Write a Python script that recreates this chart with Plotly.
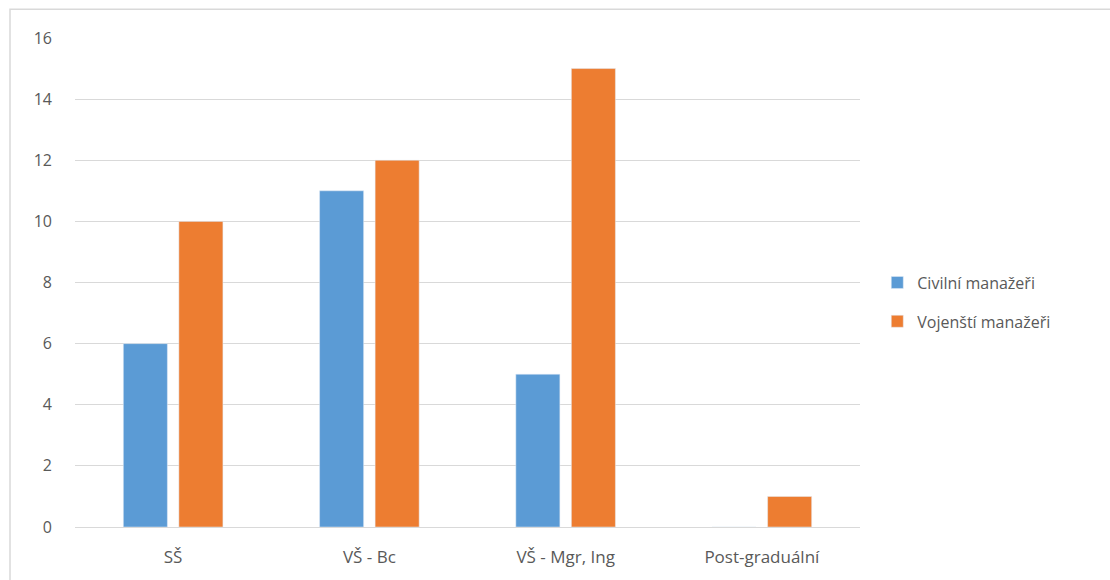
import plotly.graph_objects as go

categories = ["SŠ", "VŠ - Bc", "VŠ - Mgr, Ing", "Post-graduální"]
civilni = [6, 11, 5, 0]
vojensti = [10, 12, 15, 1]
y_ticks = [0, 2, 4, 6, 8, 10, 12, 14, 16]

font_family = "'Open Sans', sans-serif"
text_color = "#595959"

fig = go.Figure()
fig.add_trace(go.Bar(name="Civilní manažeři", x=categories, y=civilni,
                     marker_color="#5B9BD5", legendgroup="civ"))
fig.add_trace(go.Bar(name="Vojenští manažeři", x=categories, y=vojensti,
                     marker_color="#ED7D31", legendgroup="voj"))

fig.update_layout(
    width=1110, height=580,
    margin=dict(l=75, r=250, t=38, b=53),
    paper_bgcolor="white", plot_bgcolor="white",
    barmode="group", bargap=0.434, bargroupgap=0.207,
    font=dict(family=font_family, size=16, color=text_color),
    legend=dict(x=1.022, y=0.46, xanchor="left", yanchor="middle",
                font=dict(size=16, color=text_color),
                tracegroupgap=15, itemwidth=30),
    xaxis=dict(showgrid=False, showline=False, ticks="",
               ticklabelstandoff=18,
               tickfont=dict(size=17, color=text_color)),
    yaxis=dict(range=[0, 16], tickvals=y_ticks, showgrid=True,
               gridcolor="#D9D9D9", gridwidth=1, zeroline=True,
               zerolinecolor="#D9D9D9", zerolinewidth=1, showline=False,
               ticks="", ticklabelstandoff=22,
               tickfont=dict(size=16, color=text_color)),
    shapes=[dict(type="rect", xref="paper", yref="paper",
                 x0=-0.0828, x1=1.33, y0=-0.15, y1=1.059,
                 line=dict(color="#D9D9D9", width=1.5),
                 fillcolor="rgba(0,0,0,0)", layer="below")],
)

fig.write_html("out.html")
